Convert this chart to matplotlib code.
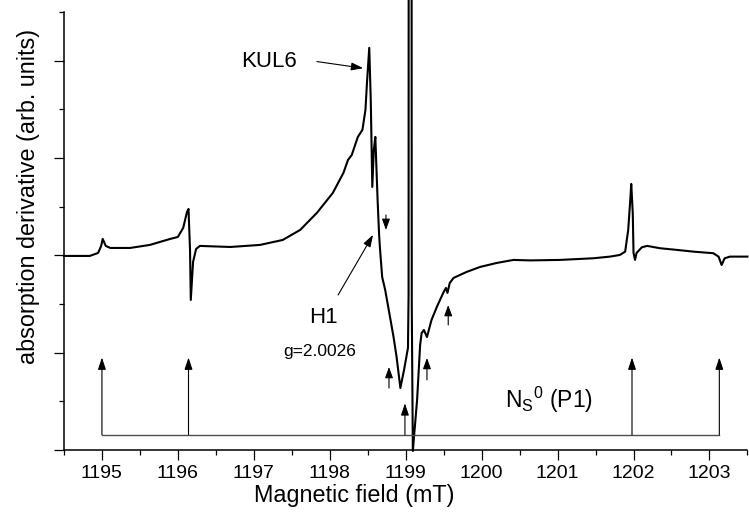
import matplotlib
matplotlib.use("Agg")
import matplotlib.pyplot as plt
import numpy as np

plt.rcParams['font.family'] = ['Liberation Sans', 'DejaVu Sans']
plt.rcParams['mathtext.fontset'] = 'custom'
plt.rcParams['mathtext.rm'] = 'Liberation Sans'

# EPR spectrum (field in mT, signal in arb. units)
field = [1194.50, 1194.84, 1194.95, 1194.99, 1195.01, 1195.05, 1195.11, 1195.37,
         1195.63, 1195.90, 1196.00, 1196.07, 1196.12, 1196.14, 1196.16, 1196.17,
         1196.20, 1196.24, 1196.29, 1196.69, 1197.08, 1197.38, 1197.61, 1197.83,
         1198.04, 1198.18, 1198.24, 1198.29, 1198.37, 1198.43, 1198.47, 1198.49,
         1198.52, 1198.54, 1198.56, 1198.58, 1198.60, 1198.63, 1198.65, 1198.66,
         1198.69, 1198.73, 1198.77, 1198.84, 1198.88, 1198.93, 1198.98, 1199.03,
         1199.038, 1199.040, 1199.076, 1199.080, 1199.094, 1199.15, 1199.19,
         1199.21, 1199.24, 1199.28, 1199.34, 1199.41, 1199.50, 1199.53, 1199.55,
         1199.58, 1199.63, 1199.80, 1199.98, 1200.20, 1200.42, 1200.64, 1201.03,
         1201.47, 1201.69, 1201.82, 1201.89, 1201.93, 1201.96, 1201.97, 1201.99,
         1202.00, 1202.02, 1202.04, 1202.11, 1202.18, 1202.35, 1202.57, 1202.79,
         1203.05, 1203.12, 1203.16, 1203.20, 1203.27, 1203.50]
signal = [1.994, 1.994, 2.025, 2.097, 2.169, 2.097, 2.076, 2.076,
          2.107, 2.169, 2.189, 2.282, 2.446, 2.477, 2.056, 1.542,
          1.932, 2.066, 2.097, 2.086, 2.107, 2.158, 2.261, 2.436,
          2.641, 2.847, 2.980, 3.032, 3.217, 3.289, 3.494, 3.772,
          4.132, 3.597, 2.703, 3.083, 3.217, 2.569, 2.210, 2.086,
          1.778, 1.644, 1.470, 1.161, 0.956, 0.637, 0.830, 1.050,
          1.600, 8.000, 8.000, 1.500, -0.010, 0.514, 1.079,
          1.202, 1.233, 1.161, 1.336, 1.470, 1.624, 1.665, 1.614,
          1.716, 1.768, 1.829, 1.881, 1.922, 1.953, 1.948, 1.953,
          1.970, 1.987, 2.004, 2.038, 2.261, 2.603, 2.734, 2.436,
          2.025, 1.953, 2.025, 2.083, 2.097, 2.073, 2.056, 2.038,
          2.022, 1.987, 1.901, 1.970, 1.987, 1.987]

# P1 stick diagram
p1_lines = [1195.0, 1196.14, 1201.98, 1203.13]
p1_center = 1198.99
p1_base = 0.157
p1_top = 0.95
p1_center_top = 0.48

# small arrows (x, y start, y tip)
small_arrows = [(1198.74, 2.415, 2.261), (1198.78, 0.637, 0.853),
                (1199.28, 0.720, 0.946), (1199.56, 1.285, 1.490)]

fig = plt.figure(figsize=(7.49, 5.14), dpi=100)
ax = fig.add_axes([0.0854, 0.1245, 0.9125, 0.8521])

ax.plot(field, signal, color='k', lw=1.5, clip_on=False, solid_joinstyle='round')

# stick diagram
ax.plot([p1_lines[0], p1_lines[-1]], [p1_base, p1_base], color='0.3', lw=1.0)
for xp in p1_lines:
    ax.annotate('', xy=(xp, p1_top), xytext=(xp, p1_base),
                arrowprops=dict(arrowstyle='-|>,head_length=0.6,head_width=0.2',
                                mutation_scale=12, color='k', lw=0.8,
                                shrinkA=0, shrinkB=0))
ax.annotate('', xy=(p1_center, p1_center_top), xytext=(p1_center, p1_base),
            arrowprops=dict(arrowstyle='-|>,head_length=0.6,head_width=0.2',
                            mutation_scale=12, color='k', lw=0.8,
                            shrinkA=0, shrinkB=0))

for xa, y0, y1 in small_arrows:
    ax.annotate('', xy=(xa, y1), xytext=(xa, y0),
                arrowprops=dict(arrowstyle='-|>,head_length=0.55,head_width=0.2',
                                mutation_scale=12, color='k', lw=0.8,
                                shrinkA=0, shrinkB=0))

# labels with pointers
ax.text(1197.20, 3.99, 'KUL6', fontsize=16, ha='center', va='center')
ax.annotate('', xy=(1198.44, 3.923), xytext=(1197.83, 3.991),
            arrowprops=dict(arrowstyle='-|>,head_length=0.6,head_width=0.2',
                            mutation_scale=12, color='k', lw=0.8,
                            shrinkA=0, shrinkB=0))
ax.text(1197.92, 1.36, 'H1', fontsize=16, ha='center', va='center')
ax.text(1197.87, 1.01, 'g=2.0026', fontsize=12.5, ha='center', va='center')
ax.annotate('', xy=(1198.57, 2.21), xytext=(1198.11, 1.593),
            arrowprops=dict(arrowstyle='-|>,head_length=0.6,head_width=0.2',
                            mutation_scale=12, color='k', lw=0.8,
                            shrinkA=0, shrinkB=0))
ax.text(1200.31, 0.43, r'N$_\mathrm{S}$$^\mathrm{0}$ (P1)', fontsize=16.5,
        ha='left', va='baseline')

ax.set_xlim(1194.5, 1203.5)
ax.set_ylim(0, 4.5)
ax.set_xticks(np.arange(1195, 1204, 1))
ax.set_xticks(np.arange(1194.5, 1204, 0.5), minor=True)
ax.set_yticks(np.arange(0, 4.6, 1))
ax.set_yticks(np.arange(0, 4.6, 0.5), minor=True)
ax.set_yticklabels([])
ax.tick_params(which='major', direction='out', length=7, width=0.9, labelsize=14, pad=4)
ax.tick_params(which='minor', direction='out', length=3.5, width=0.9)
ax.spines['top'].set_visible(False)
ax.spines['right'].set_visible(False)
ax.spines['left'].set_linewidth(1.1)
ax.spines['bottom'].set_linewidth(1.1)

ax.set_xlabel('Magnetic field (mT)', fontsize=16.8)
ax.xaxis.set_label_coords(0.424, -0.078)
ax.set_ylabel('absorption derivative (arb. units)', fontsize=16.8)
ax.yaxis.set_label_coords(-0.035, 0.578)

fig.savefig('out.png', dpi=100)
